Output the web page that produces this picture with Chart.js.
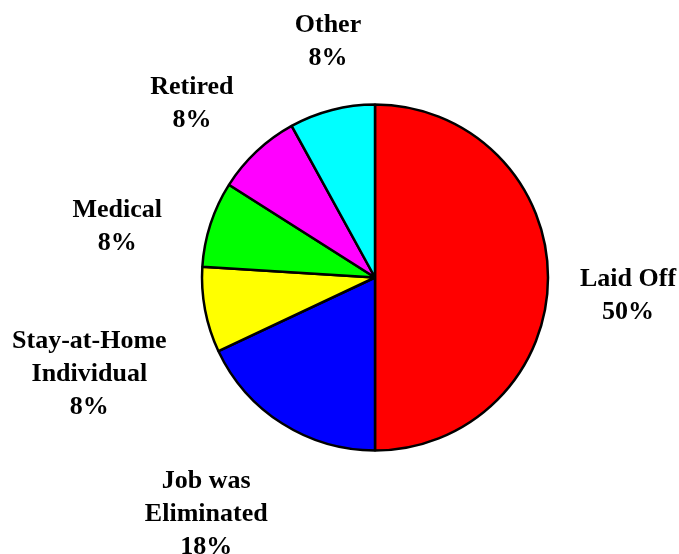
<!DOCTYPE html>
<html>
<head>
<meta charset="utf-8">
<script src="https://cdn.jsdelivr.net/npm/chart.js@4.4.1/dist/chart.umd.min.js"></script>
<style>
    html, body { margin:0; padding:0; background:#fff; }
    #wrap { width:679px; height:554px; }
</style>
</head>
<body>
<div id="wrap"><canvas id="reasonChart" width="679" height="554"></canvas></div>
<script>
// =============================
// DATA
// =============================
const categories = [['Laid Off'], ['Job was','Eliminated'], ['Stay-at-Home','Individual'], ['Medical'], ['Retired'], ['Other']];
const shares = [50, 18, 8, 8, 8, 8];
const sliceColors = ['#ff0000', '#0000ff', '#ffff00', '#00ff00', '#ff00ff', '#00ffff'];

// label nudges (dx, dy) to sit where the original placed them
const labelNudges = [[2,18], [-21,16], [-9,49], [-20,23], [-5,7], [12,-6]];

// =============================
// OUTSIDE LABELS
// =============================
const outsideLabels = {
    id: 'outsideLabels',
    afterDatasetsDraw(chart) {
        const ctx = chart.ctx;
        const meta = chart.getDatasetMeta(0);
        const total = shares.reduce((a,b) => a+b, 0);
        const lineH = 33;
        ctx.save();
        ctx.font = 'bold 26px "Liberation Serif", "Times New Roman", serif';
        ctx.fillStyle = '#000';
        ctx.textAlign = 'center';
        ctx.textBaseline = 'middle';
        meta.data.forEach((arc, i) => {
            let lines = categories[i].concat([Math.round(shares[i] / total * 100) + '%']);
            let w = Math.max(...lines.map(l => ctx.measureText(l).width));
            let h = lines.length * lineH;
            let mid = (arc.startAngle + arc.endAngle) / 2;
            let ux = Math.cos(mid), uy = Math.sin(mid);
            let r = arc.outerRadius + 30;
            let px = arc.x + ux * r, py = arc.y + uy * r;
            let m = Math.max(Math.abs(ux), Math.abs(uy));
            let cx = px + ux / m * w / 2 + labelNudges[i][0];
            let cy = py + uy / m * h / 2 + labelNudges[i][1];
            let y0 = cy - h / 2 + lineH / 2;
            lines.forEach((l, k) => ctx.fillText(l, cx, y0 + k * lineH));
        });
        ctx.restore();
    }
};

// =============================
// PIE CHART
// =============================
const ctx1 = document.getElementById('reasonChart');
if (ctx1) {
    new Chart(ctx1, {
        type: 'pie',
        data: {
            labels: categories,
            datasets: [{
                data: shares,
                backgroundColor: sliceColors,
                borderColor: '#000',
                borderWidth: 2.5,
                hoverBorderWidth: 2.5
            }]
        },
        options: {
            responsive: false,
            animation: false,
            radius: 173,
            layout: { padding: { left: 100, right: 29, top: 30, bottom: 29 } },
            plugins: {
                legend: { display: false },
                tooltip: { enabled: false }
            }
        },
        plugins: [outsideLabels]
    });
}
</script>
</body>
</html>
